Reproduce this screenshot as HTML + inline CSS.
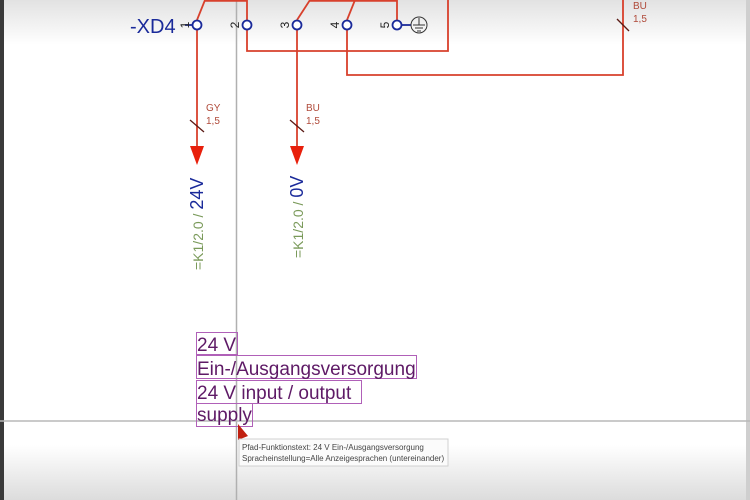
<!DOCTYPE html>
<html><head><meta charset="utf-8"><style>
html,body{margin:0;padding:0;width:750px;height:500px;overflow:hidden;background:#fff}
svg{display:block}
</style></head><body>
<svg width="750" height="500" viewBox="0 0 750 500" xmlns="http://www.w3.org/2000/svg" font-family="Liberation Sans, sans-serif">
<defs>
<linearGradient id="gt" x1="0" y1="0" x2="0" y2="1"><stop offset="0" stop-color="#e2e2e2"/><stop offset="1" stop-color="#ffffff"/></linearGradient>
<linearGradient id="gb" x1="0" y1="0" x2="0" y2="1"><stop offset="0" stop-color="#ffffff"/><stop offset="1" stop-color="#dcdcdc"/></linearGradient>
</defs>
<rect width="750" height="500" fill="#fff"/>
<rect x="0" y="0" width="750" height="45" fill="url(#gt)"/>
<rect x="0" y="445" width="750" height="55" fill="url(#gb)"/>
<rect x="0" y="0" width="4" height="500" fill="#3a3a3a"/>
<rect x="746" y="0" width="4" height="500" fill="#cfcfcf"/>
<line x1="236.5" y1="0" x2="236.5" y2="500" stroke="#b0b0b0" stroke-width="1.5"/>
<line x1="0" y1="421" x2="750" y2="421" stroke="#b8b8b8" stroke-width="1.5"/>
<g stroke="#d8402c" stroke-width="1.8" fill="none">
<polyline points="197,20 205,0"/>
<line x1="205" y1="0.8" x2="247" y2="0.8"/>
<line x1="247" y1="0" x2="247" y2="20"/>
<polyline points="247,30 247,51 448,51 448,0"/>
<polyline points="297,20 310,0"/>
<line x1="310" y1="0.8" x2="397" y2="0.8"/>
<polyline points="347,20 355,0"/>
<line x1="397" y1="0" x2="397" y2="20"/>
<polyline points="347,30 347,75 623,75 623,0"/>
<line x1="197" y1="30" x2="197" y2="150"/>
<line x1="297" y1="30" x2="297" y2="150"/>
</g>
<g stroke="#5a1a14" stroke-width="1.3">
<line x1="190" y1="120" x2="204" y2="132"/>
<line x1="290" y1="120" x2="304" y2="132"/>
<line x1="617" y1="19" x2="629" y2="31"/>
</g>
<polygon points="190,146 204,146 197,165" fill="#e8200c"/>
<polygon points="290,146 304,146 297,165" fill="#e8200c"/>
<g fill="#b04a3a" font-size="10">
<text x="206" y="111">GY</text><text x="206" y="124">1,5</text>
<text x="306" y="111">BU</text><text x="306" y="124">1,5</text>
<text x="633" y="9">BU</text><text x="633" y="22">1,5</text>
</g>
<g stroke="#1a2a9a" stroke-width="1.8" fill="#fff">
<circle cx="197" cy="25" r="4.5"/><circle cx="247" cy="25" r="4.5"/><circle cx="297" cy="25" r="4.5"/><circle cx="347" cy="25" r="4.5"/><circle cx="397" cy="25" r="4.5"/>
<line x1="185" y1="25" x2="192" y2="25"/><line x1="402" y1="25" x2="411" y2="25"/>
</g>
<g stroke="#333" stroke-width="1" fill="none">
<circle cx="419" cy="25" r="8"/>
<line x1="419" y1="18" x2="419" y2="25"/><line x1="413" y1="25" x2="425" y2="25"/><line x1="415" y1="28" x2="423" y2="28"/><line x1="417" y1="31" x2="421" y2="31"/>
</g>
<text x="130" y="33" fill="#1a2a9a" font-size="20">-XD4</text>
<g fill="#222" font-size="12">
<text transform="translate(189,25) rotate(-90)" text-anchor="middle">1</text>
<text transform="translate(239,25) rotate(-90)" text-anchor="middle">2</text>
<text transform="translate(289,25) rotate(-90)" text-anchor="middle">3</text>
<text transform="translate(339,25) rotate(-90)" text-anchor="middle">4</text>
<text transform="translate(389,25) rotate(-90)" text-anchor="middle">5</text>
</g>
<text transform="translate(203,270) rotate(-90)" font-size="14"><tspan fill="#7a9a5a">=K1/2.0 / </tspan><tspan fill="#1a2a9a" font-size="18">24V</tspan></text>
<text transform="translate(303,258) rotate(-90)" font-size="14"><tspan fill="#7a9a5a">=K1/2.0 / </tspan><tspan fill="#1a2a9a" font-size="18">0V</tspan></text>
<g fill="none" stroke="#b060b8" stroke-width="1">
<rect x="196.5" y="332.5" width="41" height="22"/>
<rect x="196.5" y="355.5" width="220" height="23"/>
<rect x="196.5" y="380.5" width="165" height="23"/>
<rect x="196.5" y="403.5" width="56" height="23"/>
</g>
<g fill="#5e1a66" font-size="19">
<text x="197" y="351">24 V</text>
<text x="197" y="375">Ein-/Ausgangsversorgung</text>
<text x="197" y="399">24 V input / output</text>
<text x="197" y="421">supply</text>
</g>
<polygon points="238,424 238,440 248,436" fill="#c02010"/>
<rect x="239" y="439" width="209" height="27" fill="#fbfbfb" stroke="#d0d0d0"/>
<g fill="#444" font-size="8">
<text x="242" y="450">Pfad-Funktionstext: 24 V Ein-/Ausgangsversorgung</text>
<text x="242" y="461">Spracheinstellung=Alle Anzeigesprachen (untereinander)</text>
</g>
</svg>
</body></html>
